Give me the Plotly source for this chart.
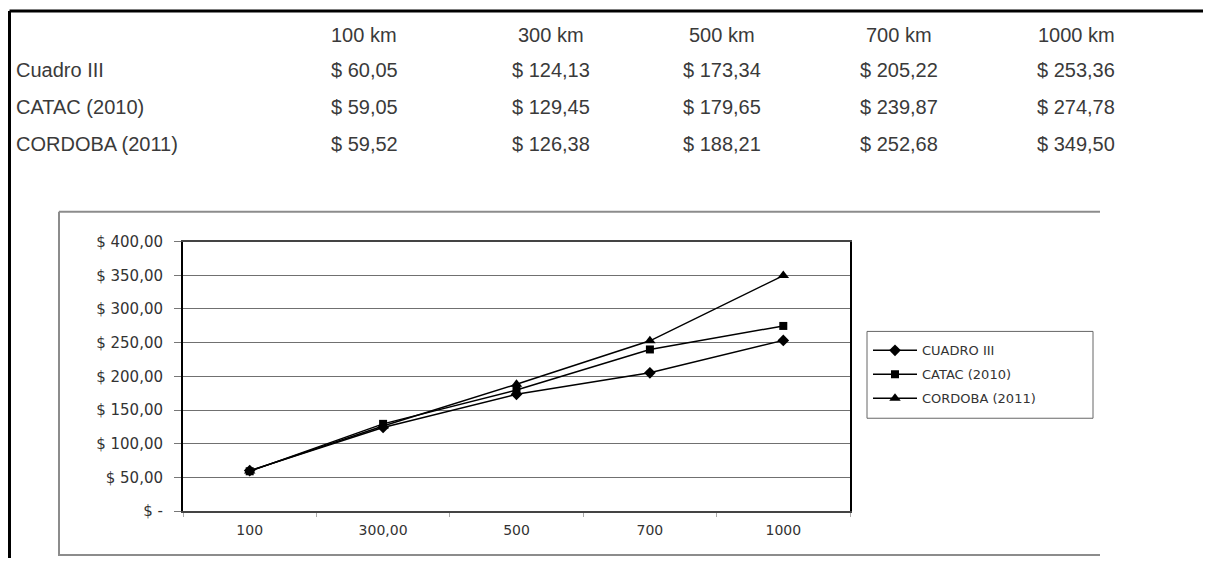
import plotly.graph_objects as go

# ---- data ----
distances_km = [100, 300, 500, 700, 1000]
x_tick_labels = ["100", "300,00", "500", "700", "1000"]
series_names_table = ["Cuadro III", "CATAC (2010)", "CORDOBA (2011)"]
series_names_legend = ["CUADRO III", "CATAC (2010)", "CORDOBA (2011)"]
cuadro_iii = [60.05, 124.13, 173.34, 205.22, 253.36]
catac_2010 = [59.05, 129.45, 179.65, 239.87, 274.78]
cordoba_2011 = [59.52, 126.38, 188.21, 252.68, 349.50]
y_tick_values = [0, 50, 100, 150, 200, 250, 300, 350, 400]

# figure size and page-placement calibration
W, H = 1195, 550
X_OFF = 8
Y_OFF, Y_SPAN = 16, 533


def px(x):
    return (x - X_OFF) / W


def py(y):
    return 1 - (y - Y_OFF) / Y_SPAN


def money(v):
    if v == 0:
        return "$ -"
    return "$ " + f"{v:.2f}".replace(".", ",")


series_values = [cuadro_iii, catac_2010, cordoba_2011]
symbols = ["diamond", "square", "triangle-up"]
sizes = [9, 8, 10]

fig = go.Figure()
for name, vals, sym, sz in zip(series_names_legend, series_values, symbols, sizes):
    fig.add_trace(go.Scatter(
        x=x_tick_labels, y=vals, name=name, mode="lines+markers",
        legendgroup=name,
        line=dict(color="black", width=1.5),
        marker=dict(symbol=sym, size=sz, color="black"),
    ))

# ---- table (as text) ----
annotations = []
col_x = [364, 551, 722, 899, 1076]
header_y = 34
row_y = [69, 106, 143]
tfont = dict(family="Liberation Sans, Arial", size=20, color="#3a3a3a")
for cx, km in zip(col_x, distances_km):
    annotations.append(dict(x=px(cx), y=py(header_y), xref="paper", yref="paper",
                            text=f"{km} km", showarrow=False, xanchor="center",
                            yanchor="middle", font=tfont))
for ry, label, vals in zip(row_y, series_names_table, series_values):
    annotations.append(dict(x=px(14), y=py(ry), xref="paper", yref="paper",
                            text=label, showarrow=False, xanchor="left",
                            yanchor="middle", font=tfont))
    for cx, v in zip(col_x, vals):
        annotations.append(dict(x=px(cx), y=py(ry), xref="paper", yref="paper",
                                text=money(v), showarrow=False, xanchor="center",
                                yanchor="middle", font=tfont))

shapes = [
    # outer frame
    dict(type="line", xref="paper", yref="paper", x0=px(9.5), y0=py(10), x1=1, y1=py(10),
         line=dict(color="black", width=3)),
    dict(type="line", xref="paper", yref="paper", x0=px(9.5), y0=py(10), x1=px(9.5), y1=py(566),
         line=dict(color="black", width=3)),
    # chart frame
    dict(type="line", xref="paper", yref="paper", x0=px(59), y0=py(211), x1=px(1100), y1=py(211),
         line=dict(color="#8c8c8c", width=2)),
    dict(type="line", xref="paper", yref="paper", x0=px(59), y0=py(211), x1=px(59), y1=py(556),
         line=dict(color="#8c8c8c", width=2)),
    dict(type="line", xref="paper", yref="paper", x0=px(59), y0=py(555), x1=px(1100), y1=py(555),
         line=dict(color="#8c8c8c", width=2)),
    # legend box
    dict(type="rect", xref="paper", yref="paper", x0=px(867), y0=py(331), x1=px(1093), y1=py(418),
         line=dict(color="#666666", width=1)),
]

fig.update_layout(
    width=W, height=H, autosize=False,
    margin=dict(l=0, r=0, t=0, b=0),
    paper_bgcolor="white", plot_bgcolor="white",
    annotations=annotations, shapes=shapes,
    showlegend=True,
    legend=dict(x=px(868), y=py(335), xanchor="left", yanchor="top",
                bgcolor="rgba(0,0,0,0)", borderwidth=0,
                font=dict(family="DejaVu Sans", size=13, color="#333333"),
                itemwidth=44, traceorder="grouped", tracegroupgap=4),
    xaxis=dict(domain=[px(183), px(850)], type="category",
               categoryorder="array", categoryarray=x_tick_labels,
               range=[-0.5, len(x_tick_labels) - 0.5],
               showgrid=False, showline=True, linecolor="#444444", linewidth=2, mirror=True,
               ticks="outside", tickson="boundaries", ticklen=4, tickcolor="#aaaaaa",
               tickfont=dict(family="DejaVu Sans", size=14, color="#333333"),
               ticklabelstandoff=5, zeroline=False),
    yaxis=dict(domain=[py(511), py(241)], range=[0, 400],
               tickvals=y_tick_values, ticktext=[money(v) for v in y_tick_values],
               showgrid=True, gridcolor="#707070", gridwidth=1,
               showline=True, linecolor="black", linewidth=2, mirror=True,
               ticks="outside", ticklen=7, tickcolor="#777777",
               tickfont=dict(family="DejaVu Sans", size=15, color="#333333"),
               ticklabelstandoff=8, zeroline=False),
)

fig.write_html("out.html")
